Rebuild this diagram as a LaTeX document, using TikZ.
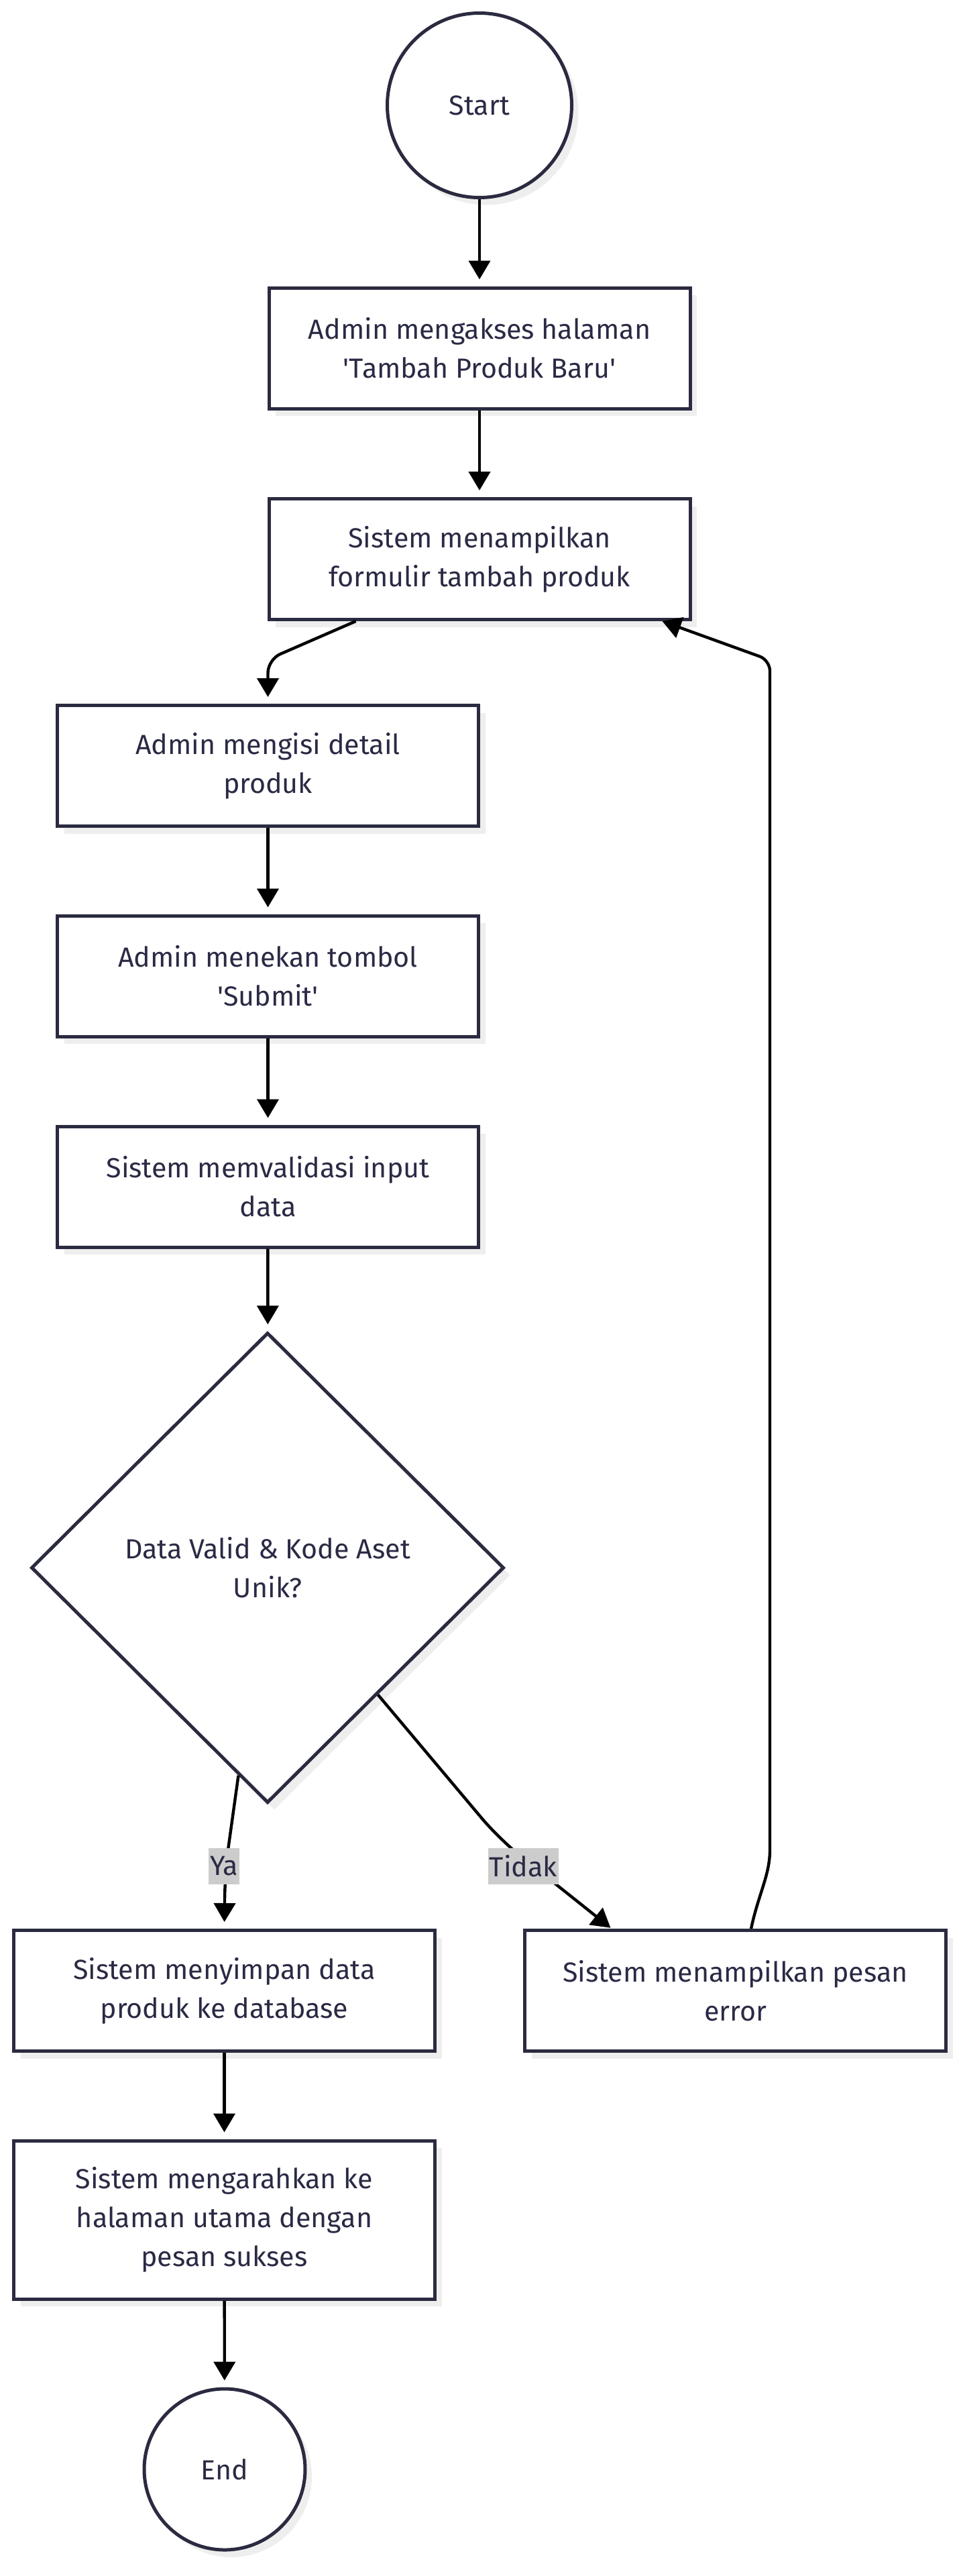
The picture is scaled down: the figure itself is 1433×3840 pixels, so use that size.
\documentclass[tikz,border=0pt]{standalone}
\usepackage{fontspec}
\setmainfont{Fira Sans}
\usepackage{xcolor}
\usepackage{tikz}
\usetikzlibrary{shapes}
\usetikzlibrary{arrows.meta}
\usetikzlibrary{shadows}

\definecolor{nodeborder}{HTML}{2A2A40}
\definecolor{nodetext}{HTML}{2A2A45}
\definecolor{shadowgrey}{HTML}{EEEEEE}
\definecolor{labelgrey}{HTML}{CCCCCC}

\begin{document}
\begin{tikzpicture} [
            x=0.5pt, y=-0.5pt,
            % ----- Node definitions ----- %
            processnode/.style = {
                    draw = nodeborder,
                line width = 2.5pt,
                rectangle,
                fill = white,
                minimum width = 314pt,
                minimum height = #1,
                align=center,
                text = nodetext,
                drop shadow = {shadow xshift=5pt, shadow yshift=-5.5pt, fill=shadowgrey, opacity=1},
                font=\fontsize{20.6}{29}\selectfont
            },
            processnode/.default = 90pt,
            terminalnode/.style = {
                    draw = nodeborder,
                line width = 2.5pt,
                circle,
                fill = white,
                minimum size = #1,
                text = nodetext,
                drop shadow = {shadow xshift=5pt, shadow yshift=-5.5pt, fill=shadowgrey, opacity=1},
                font=\fontsize{20.6}{29}\selectfont
            },
            decisionnode/.style = {
                    draw = nodeborder,
                line width = 2.5pt,
                diamond,
                inner sep = 0pt,
                fill = white,
                minimum width = 352.5pt,
                minimum height = 350.5pt,
                align=center,
                text = nodetext,
                drop shadow = {shadow xshift=5pt, shadow yshift=-5.5pt, fill=shadowgrey, opacity=1},
                font=\fontsize{20.6}{29}\selectfont
            },
            flowarrow/.style = {
                    draw = black,
                line width = 2.2pt,
                -{Triangle[length=14pt, width=16pt]},
                shorten >= #1
            },
            flowarrow/.default = 5pt,
            edgelabel/.style = {
                    fill = labelgrey,
                text = nodetext,
                inner xsep = 1pt,
                inner ysep = 0pt,
                minimum height = 27pt,
                font=\fontsize{20.6}{29}\selectfont
            },
    ]

    \useasboundingbox (0,0) rectangle (1433,3840);

            % ----- Node constructions ----- %
        \node [terminalnode=137.5pt] (start) at (715,157) {Start};
        \node [processnode] (accesspage) at (715,519) {
                Admin mengakses halaman \\ \textquotesingle Tambah Produk Baru\textquotesingle};
        \node [processnode] (showform) at (715,833.5) {
                Sistem menampilkan \\ formulir tambah produk};
        \node [processnode] (filldetail) at (399.5,1141.5) {
                Admin mengisi detail \\ produk};
        \node [processnode] (pressubmit) at (399.5,1455) {
                Admin menekan tombol \\ \textquotesingle Submit\textquotesingle};
        \node [processnode] (validate) at (399.5,1769) {
                Sistem memvalidasi input \\ data};
        \node [decisionnode] (check) at (399,2337) {
                Data Valid \& Kode Aset \\ Unik?};
        \node [processnode] (savedata) at (334.5,2967.5) {
                Sistem menyimpan data \\ produk ke database};
        \node [processnode] (showerror) at (1096.5,2967.5) {
                Sistem menampilkan pesan \\ error};
        \node [processnode=118pt] (redirect) at (334.5,3309) {
                Sistem mengarahkan ke \\ halaman utama dengan \\ pesan sukses};
        \node [terminalnode=120pt] (stop) at (335,3681) {End};

            % ----- Connections ----- %
        \draw [flowarrow] (start) -- (accesspage);
        \draw [flowarrow] (accesspage) -- (showform);
        \draw [flowarrow, rounded corners=10pt] ([xshift=66pt]showform.south west)
                -- (399.5,983) -- (filldetail.north);
        \draw [flowarrow] (filldetail) -- (pressubmit);
        \draw [flowarrow] (pressubmit) -- (validate);
        \draw [flowarrow] (validate) -- (check);
        \draw [flowarrow, rounded corners=20pt] (check.-98) -- (335.5,2790) -- (savedata.north);
        \draw [flowarrow=1pt, rounded corners=20pt] (check.-49) -- (745,2742)
                -- ([xshift=66pt]showerror.north west);
        \draw [flowarrow=0pt, rounded corners=8pt] ([xshift=170pt]showerror.north west)
                to[out=78, in=-90] (1148,2742) -- (1148,984) -- ([xshift=-22pt]showform.south east);
        \draw [flowarrow] (savedata) -- (redirect);
        \draw [flowarrow] (redirect) -- (stop);

        \node [edgelabel] (yes) at (334,2782) {Ya};
        \node [edgelabel] (no) at (780.5,2782) {Tidak};

\end{tikzpicture}
\end{document}
